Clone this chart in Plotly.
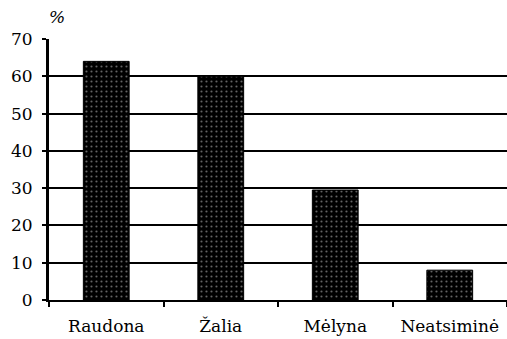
import plotly.graph_objects as go

categories = ["Raudona", "Žalia", "Mėlyna", "Neatsiminė"]
values = [64, 60, 29.5, 8]
y_ticks = [0, 10, 20, 30, 40, 50, 60, 70]

fig = go.Figure()
fig.add_trace(go.Bar(
    x=categories, y=values, width=0.4,
    marker=dict(color="black", line=dict(color="black", width=1),
                pattern=dict(shape=".", fgcolor="#c8c8c8", bgcolor="black", size=5, solidity=0.15)),
))
fig.update_layout(
    width=507, height=339,
    margin=dict(l=49, r=0, t=39, b=39),
    paper_bgcolor="white", plot_bgcolor="white",
    font=dict(family="DejaVu Serif", size=17, color="black"),
    showlegend=False, bargap=0.6,
    annotations=[dict(text="<i>%</i>", x=0, xref="paper", xanchor="left", xshift=-2,
                      y=1, yref="paper", yanchor="bottom", yshift=10, showarrow=False,
                      font=dict(family="DejaVu Serif", size=17))],
)
fig.update_yaxes(range=[0, 70], tickvals=y_ticks, showgrid=True, gridcolor="black", gridwidth=2,
                 showline=True, linecolor="black", linewidth=3, ticks="outside", ticklen=4,
                 tickcolor="black", tickwidth=2, zeroline=False, fixedrange=True,
                 automargin=False, ticklabelstandoff=6)
fig.update_xaxes(showline=True, linecolor="black", linewidth=2, ticks="outside", ticklen=5,
                 tickcolor="black", tickwidth=2, tickson="boundaries", showgrid=False,
                 fixedrange=True, automargin=False, ticklabelstandoff=10)
fig.write_html("out.html", config={"displayModeBar": False},
               post_script="document.body.style.margin='0';document.body.style.overflow='hidden';")
